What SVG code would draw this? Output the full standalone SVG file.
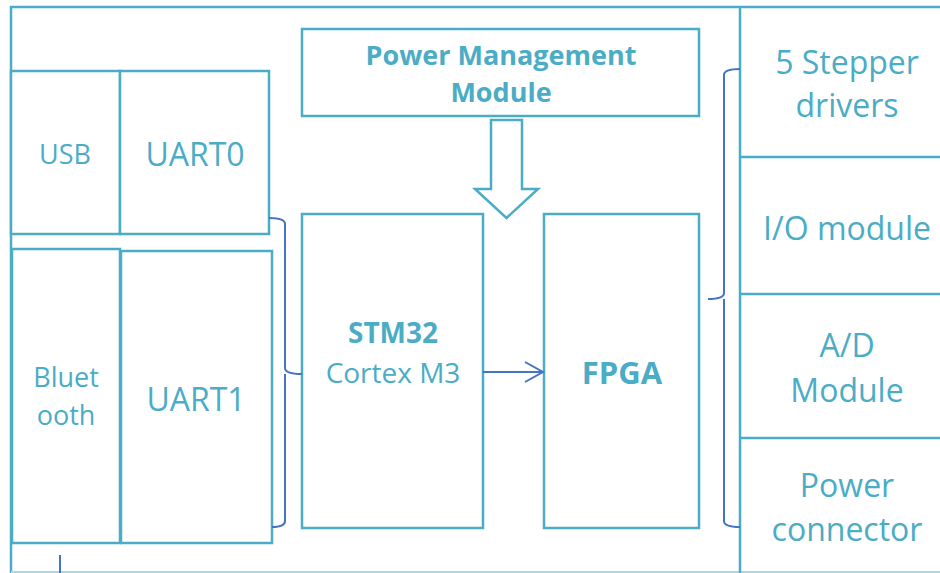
<svg xmlns="http://www.w3.org/2000/svg" width="940" height="573" viewBox="0 0 940 573">
<style>
.box{fill:#fff;stroke:#4BACC6;stroke-width:2.5}
.frame{fill:none;stroke:#4BACC6;stroke-width:2.5}
.t{fill:#4BACC6;font-family:"Open Sans","Noto Sans",sans-serif;text-anchor:middle}
.b{font-weight:bold}
.con{fill:none;stroke:#4472C4;stroke-width:2}
</style>
<rect width="940" height="573" fill="#fff"/>
<g id="frame">
<path class="frame" d="M940 7 H11 V573"/>
<path d="M11 572 H940" stroke="#A8D8E4" stroke-width="2" fill="none"/>
<path class="frame" d="M740 7 V573"/>
</g>
<g id="usb"><rect class="box" x="11" y="71" width="109" height="163"/><text class="t" x="65" y="164" font-size="27">USB</text></g>
<g id="uart0"><rect class="box" x="120" y="71" width="149" height="163"/><text class="t" x="195" y="166" font-size="32">UART0</text></g>
<g id="bluetooth"><rect class="box" x="12" y="249" width="108" height="294"/><text class="t" x="66" y="387" font-size="27">Bluet</text><text class="t" x="66" y="425" font-size="27">ooth</text></g>
<g id="uart1"><rect class="box" x="121" y="251" width="151" height="292"/><text class="t" x="196" y="411" font-size="32">UART1</text></g>
<g id="pmm"><rect class="box" x="302" y="29" width="397" height="87"/><text class="t b" x="501" y="65" font-size="27">Power Management</text><text class="t b" x="501" y="102" font-size="27">Module</text></g>
<g id="power-arrow"><path class="box" d="M491 120 H522 V189 H538 L506.5 218 L475 189 H491 Z"/></g>
<g id="stm32"><rect class="box" x="302" y="214" width="181" height="314"/><text class="t b" x="393" y="343" font-size="28">STM32</text><text class="t" x="393" y="383" font-size="28">Cortex M3</text></g>
<g id="fpga"><rect class="box" x="544" y="214" width="155" height="314"/><text class="t b" x="622" y="384" font-size="31">FPGA</text></g>
<g id="stepper"><path class="frame" d="M740 157 H940"/><text class="t" x="847" y="74" font-size="32">5 Stepper</text><text class="t" x="847" y="117" font-size="32">drivers</text></g>
<g id="io"><path class="frame" d="M740 294 H940"/><text class="t" x="847" y="240" font-size="32">I/O module</text></g>
<g id="ad"><path class="frame" d="M740 438 H940"/><text class="t" x="847" y="357" font-size="32">A/D</text><text class="t" x="847" y="402" font-size="32">Module</text></g>
<g id="powerconn"><text class="t" x="847" y="497" font-size="32">Power</text><text class="t" x="847" y="541" font-size="32">connector</text></g>
<g id="connectors">
<path class="con" d="M269 218 Q285 218 285 224 V368 Q285 374 302 374 M285 374 Q285 380 285 384 V521 Q285 527 272 527" stroke-width="1.8"/>
<path class="con" d="M740 69 Q724 69 724 75 V293 Q724 299 708 299 M724 299 Q724 305 724 309 V521 Q724 527 740 527" stroke-width="1.8"/>
<path class="con" d="M483 372 H543 M525 362 L543 372 L525 382" stroke-width="2.2"/>
<path class="con" d="M60 555 V573" stroke-width="2.5"/>
</g>
</svg>
